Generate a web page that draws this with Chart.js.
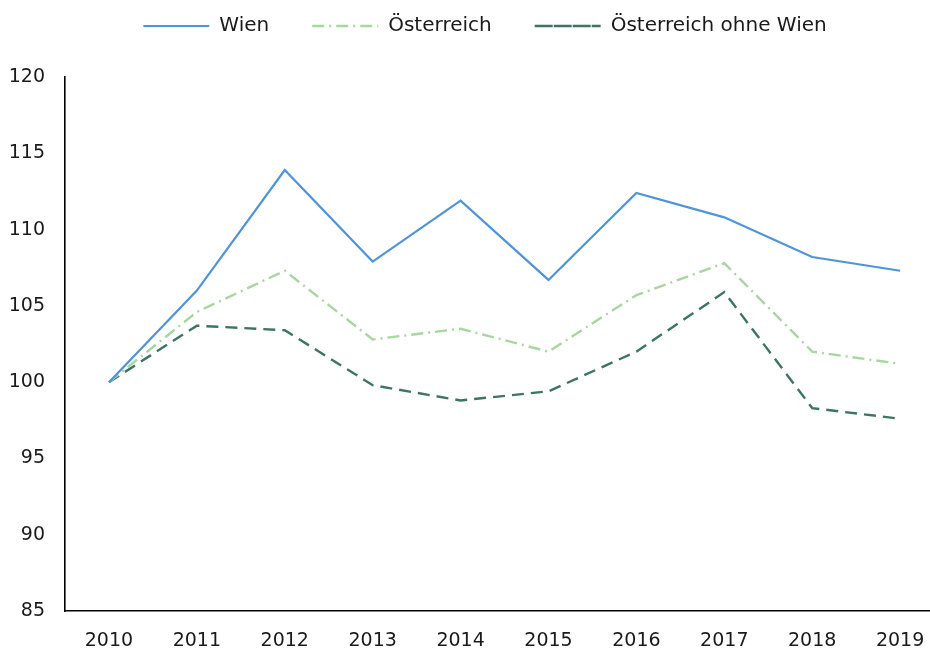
<!DOCTYPE html>
<html>
<head>
<meta charset="utf-8">
<script src="https://cdn.jsdelivr.net/npm/chart.js@4"></script>
<style>
  html, body { margin: 0; padding: 0; background: #fff; }
  #wrap { width: 930px; height: 648px; }
</style>
</head>
<body>
<div id="wrap"><canvas id="chart"></canvas></div>
<script>
// index values, 2010 = 100
const years = [2010, 2011, 2012, 2013, 2014, 2015, 2016, 2017, 2018, 2019]
const wien = [100, 106.0, 113.9, 107.9, 111.9, 106.7, 112.4, 110.8, 108.2, 107.3]
const oesterreich = [100, 104.6, 107.3, 102.8, 103.5, 102.0, 105.7, 107.8, 102.0, 101.2]
const ohneWien = [100, 103.7, 103.4, 99.8, 98.8, 99.4, 102.0, 105.9, 98.3, 97.6]
const seriesNames = ['Wien', 'Österreich', 'Österreich ohne Wien']
const yTicks = [85, 90, 95, 100, 105, 110, 115, 120]

function toPoints(values){
    return values.map((v, i) => ({x: years[i], y: v}))
}

const fontFamily = '"DejaVu Sans", sans-serif'

// legend: make room below it and move it a bit to the right like the original
const legendTweak = {
    id: 'legendTweak',
    beforeUpdate(chart){
        let legend = chart.legend
        if(legend && !legend._patched){
            const fit = legend.fit
            legend.fit = function(){
                fit.call(this)
                this.height = 104
            }
            legend._patched = true
        }
    },
    afterLayout(chart){
        if(chart.legend){
            chart.legend.left += 20
            chart.legend.right += 20
        }
    }
}

const canvas = document.getElementById('chart')

let indexChart = new Chart(canvas, {
    type: 'line',
    data: {
        datasets: [
            {
                label: seriesNames[0],
                data: toPoints(wien),
                borderColor: '#4f94d8',
                backgroundColor: '#4f94d8',
                borderWidth: 2.2
            },
            {
                label: seriesNames[1],
                data: toPoints(oesterreich),
                borderColor: '#a8d6a0',
                backgroundColor: '#a8d6a0',
                borderWidth: 2.4,
                borderDash: [12, 5, 2, 5]
            },
            {
                label: seriesNames[2],
                data: toPoints(ohneWien),
                borderColor: '#3c7562',
                backgroundColor: '#3c7562',
                borderWidth: 2.4,
                borderDash: [12, 7]
            }
        ]
    },
    plugins: [legendTweak],
    options: {
        responsive: true,
        maintainAspectRatio: false,
        animation: false,
        devicePixelRatio: 1,
        elements: {
            point: { radius: 0, hoverRadius: 0 },
            line: { tension: 0 }
        },
        layout: {
            padding: { top: -27, left: 0, right: 0, bottom: 0 }
        },
        plugins: {
            tooltip: { enabled: false },
            legend: {
                position: 'top',
                labels: {
                    font: { family: fontFamily, size: 20 },
                    color: '#1a1a1a',
                    boxWidth: 66,
                    boxHeight: 0,
                    padding: 43
                }
            }
        },
        scales: {
            x: {
                type: 'linear',
                min: 2009.5,
                max: 2019.34,
                grid: { display: false, drawTicks: false },
                border: { display: true, color: '#000', width: 1.6 },
                afterBuildTicks: function(scale){
                    scale.ticks = years.map(y => ({value: y}))
                },
                afterFit: function(scale){
                    scale.height = 37
                    scale.paddingLeft = 0
                    scale.paddingRight = 0
                },
                ticks: {
                    font: { family: fontFamily, size: 19 },
                    color: '#1a1a1a',
                    padding: 19,
                    maxRotation: 0,
                    autoSkip: false,
                    callback: function(value){ return String(value) }
                }
            },
            y: {
                min: 85,
                max: 120,
                grid: { display: false, drawTicks: false },
                border: { display: true, color: '#000', width: 1.6 },
                afterBuildTicks: function(scale){
                    scale.ticks = yTicks.map(v => ({value: v}))
                },
                afterFit: function(scale){
                    scale.width = 65
                },
                ticks: {
                    font: { family: fontFamily, size: 19 },
                    color: '#1a1a1a',
                    padding: 20
                }
            }
        }
    }
})
</script>
</body>
</html>
